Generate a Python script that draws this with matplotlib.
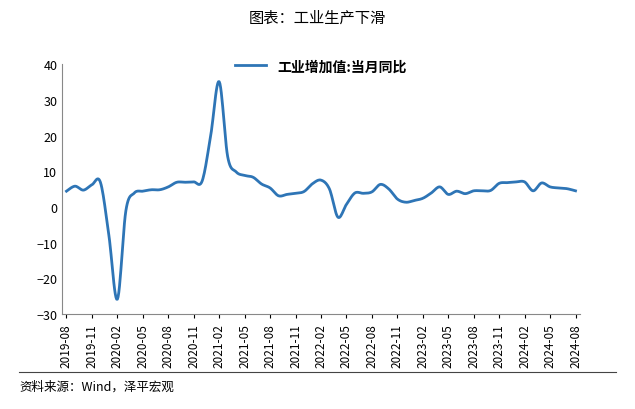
import matplotlib
matplotlib.use("Agg")
import matplotlib.pyplot as plt
import numpy as np
import pandas as pd

plt.rcParams["font.family"] = ["Noto Sans CJK SC", "DejaVu Sans"]

months = pd.date_range("2019-08-01", "2024-08-01", freq="MS").strftime("%Y-%m").tolist()
values = [4.4, 5.8, 4.7, 6.2, 6.9,
          -8.0, -25.9, -1.1, 3.9, 4.4, 4.8, 4.8, 5.6, 6.9, 6.9, 7.0, 7.3,
          20.0, 35.1, 14.1, 9.8, 8.8, 8.3, 6.4, 5.3, 3.1, 3.5, 3.8, 4.3,
          6.5, 7.5, 5.0, -2.9, 0.7, 3.9, 3.8, 4.2, 6.3, 5.0, 2.2, 1.3,
          1.8, 2.4, 3.9, 5.6, 3.5, 4.4, 3.7, 4.5, 4.5, 4.6, 6.6, 6.8,
          7.0, 7.0, 4.5, 6.7, 5.6, 5.3, 5.1, 4.5]
series_name = "工业增加值:当月同比"


def smooth(xs, ys, n=12):
    xs = np.asarray(xs, float); ys = np.asarray(ys, float)
    px = np.concatenate([[xs[0]], xs, [xs[-1]]]); py = np.concatenate([[ys[0]], ys, [ys[-1]]])
    ox, oy = [], []
    t = np.linspace(0, 1, n, endpoint=False)
    for i in range(1, len(px) - 2):
        for p, o in ((px, ox), (py, oy)):
            p0, p1, p2, p3 = p[i - 1], p[i], p[i + 1], p[i + 2]
            o.extend(0.5 * (2 * p1 + (-p0 + p2) * t + (2 * p0 - 5 * p1 + 4 * p2 - p3) * t**2
                            + (-p0 + 3 * p1 - 3 * p2 + p3) * t**3))
    ox.append(xs[-1]); oy.append(ys[-1])
    return ox, oy


fig = plt.figure(figsize=(6.35, 4.10), dpi=100)
ax = fig.add_axes([0.098, 0.232, 0.815, 0.609])
x = list(range(len(months)))
sx, sy = smooth(x, values)
ax.plot(sx, sy, color="#2E75B6", lw=2, label=series_name)
ax.set_ylim(-30, 40)
ax.set_yticks(range(-30, 41, 10))
ax.set_xlim(-0.5, len(months) - 0.5)
ax.set_xticks(x[::3])
ax.set_xticklabels(months[::3], rotation=90, fontsize=8.5)
ax.tick_params(axis="y", labelsize=9, length=0)
ax.tick_params(axis="x", length=3)
for s in ["top", "right"]:
    ax.spines[s].set_visible(False)
ax.spines["left"].set_color("#888888")
ax.spines["bottom"].set_color("#888888")
ax.legend(loc="upper center", bbox_to_anchor=(0.5, 1.07), frameon=False,
          prop={"size": 10, "weight": "bold"}, handlelength=2.2)
fig.text(0.5, 0.955, "图表：工业生产下滑", ha="center", va="center", fontsize=11)
fig.text(0.03, 0.055, "资料来源：Wind，泽平宏观", ha="left", va="center", fontsize=9, style="italic")
fig.add_artist(plt.Line2D([0.03, 0.97], [0.09, 0.09], color="#444444", lw=0.8))
fig.savefig("out.png", dpi=100)
